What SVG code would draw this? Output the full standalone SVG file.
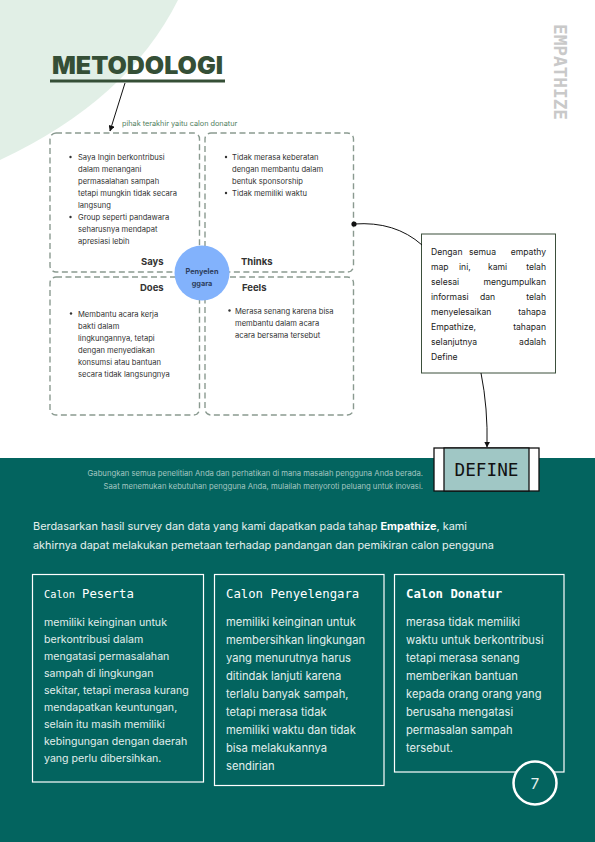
<svg xmlns="http://www.w3.org/2000/svg" width="595" height="842" viewBox="0 0 595 842">
<defs>
<style>
.body{font-family:Inter,"Noto Sans","Liberation Sans",sans-serif}
.mono{font-family:"DejaVu Sans Mono","Liberation Mono",monospace}
.q{fill:none;stroke:#8a9a90;stroke-width:1.4;stroke-dasharray:6 3.5}
.qt{font-family:Inter,"Noto Sans","Liberation Sans",sans-serif;font-size:7.6px;fill:#333}
.ql{font-family:Inter,"Noto Sans","Liberation Sans",sans-serif;font-size:9.5px;font-weight:700;fill:#333}
.ct{font-family:Inter,"Noto Sans","Liberation Sans",sans-serif;font-size:8.6px;fill:#222}
.card{fill:none;stroke:#ffffff;stroke-width:1.2}
.cb{font-family:Inter,"Noto Sans","Liberation Sans",sans-serif;fill:#e2eeec}
.ch{font-family:"DejaVu Sans Mono","Liberation Mono",monospace;fill:#ffffff}
</style>
<marker id="ah" viewBox="0 0 10 10" refX="9" refY="5" markerWidth="6" markerHeight="6" orient="auto-start-reverse" markerUnits="userSpaceOnUse">
<path d="M0,0 L10,5 L0,10 Z" fill="#111"/>
</marker>
</defs>
<rect x="0" y="0" width="595" height="842" fill="#ffffff"/>
<path d="M0,0 L178,0 Q128,100 0,160 Z" fill="#e1efe6"/>
<rect x="0" y="458" width="595" height="384" fill="#03645f"/>

<g id="title">
<text x="52" y="74" font-family="Inter,'Noto Sans','Liberation Sans',sans-serif" font-size="24" font-weight="900" fill="#354f36" textLength="171" lengthAdjust="spacingAndGlyphs">METODOLOGI</text>
<rect x="50" y="79.5" width="175" height="3" fill="#354f36"/>
</g>

<g id="empathize-label">
<text class="mono" transform="translate(554,24) rotate(90)" x="0" y="0" font-size="18" font-weight="700" fill="#c9c9c9" textLength="96" lengthAdjust="spacingAndGlyphs">EMPATHIZE</text>
</g>

<g id="note-label">
<text class="body" x="122" y="126" font-size="7.3" fill="#4f8060">pihak terakhir yaitu calon donatur</text>
</g>

<g id="says">
<rect class="q" x="50" y="133" width="149.5" height="139" rx="6"/>
<circle cx="70.5" cy="157" r="1.2" fill="#333"/>
<circle cx="70.5" cy="217" r="1.2" fill="#333"/>
<text class="qt" x="78" y="160">Saya Ingin berkontribusi</text>
<text class="qt" x="78" y="172">dalam menangani</text>
<text class="qt" x="78" y="184">permasalahan sampah</text>
<text class="qt" x="78" y="196">tetapi mungkin tidak secara</text>
<text class="qt" x="78" y="208">langsung</text>
<text class="qt" x="78" y="220">Group seperti pandawara</text>
<text class="qt" x="78" y="232">seharusnya mendapat</text>
<text class="qt" x="78" y="244">apresiasi lebih</text>
<text class="ql" x="141" y="265">Says</text>
</g>

<g id="thinks">
<rect class="q" x="205" y="133" width="148.5" height="139" rx="6"/>
<circle cx="226" cy="157" r="1.2" fill="#333"/>
<circle cx="226" cy="193" r="1.2" fill="#333"/>
<text class="qt" x="232" y="160">Tidak merasa keberatan</text>
<text class="qt" x="232" y="172">dengan membantu dalam</text>
<text class="qt" x="232" y="184">bentuk sponsorship</text>
<text class="qt" x="232" y="196">Tidak memiliki waktu</text>
<text class="ql" x="241" y="265">Thinks</text>
</g>

<g id="does">
<rect class="q" x="50" y="277" width="149.5" height="138" rx="6"/>
<circle cx="71" cy="313.5" r="1.2" fill="#333"/>
<text class="qt" x="78" y="317">Membantu acara kerja</text>
<text class="qt" x="78" y="329">bakti dalam</text>
<text class="qt" x="78" y="341">lingkungannya, tetapi</text>
<text class="qt" x="78" y="353">dengan menyediakan</text>
<text class="qt" x="78" y="365">konsumsi atau bantuan</text>
<text class="qt" x="78" y="377">secara tidak langsungnya</text>
<text class="ql" x="140" y="291">Does</text>
</g>

<g id="feels">
<rect class="q" x="205" y="277" width="148.5" height="138" rx="6"/>
<circle cx="229.5" cy="310.5" r="1.2" fill="#333"/>
<text class="qt" x="235" y="314">Merasa senang karena bisa</text>
<text class="qt" x="235" y="326">membantu dalam acara</text>
<text class="qt" x="235" y="338">acara bersama tersebut</text>
<text class="ql" x="242" y="291">Feels</text>
</g>

<g id="center">
<circle cx="202" cy="273" r="27.5" fill="#82b2fc"/>
<text class="body" x="202" y="274" font-size="7.3" font-weight="700" fill="#2d3e5c" text-anchor="middle">Penyelen</text>
<text class="body" x="202" y="286" font-size="7.3" font-weight="700" fill="#2d3e5c" text-anchor="middle">ggara</text>
</g>

<g id="callout">
<rect x="421.5" y="234" width="134" height="139" fill="#ffffff" stroke="#3b4f3b" stroke-width="1"/>
<text class="ct" x="431" y="255">Dengan</text>
<text class="ct" x="469" y="255">semua</text>
<text class="ct" x="546" y="255" text-anchor="end">empathy</text>
<text class="ct" x="431" y="270">map</text>
<text class="ct" x="459" y="270">ini,</text>
<text class="ct" x="488" y="270">kami</text>
<text class="ct" x="546" y="270" text-anchor="end">telah</text>
<text class="ct" x="431" y="285">selesai</text>
<text class="ct" x="546" y="285" text-anchor="end">mengumpulkan</text>
<text class="ct" x="431" y="300">informasi</text>
<text class="ct" x="480" y="300">dan</text>
<text class="ct" x="546" y="300" text-anchor="end">telah</text>
<text class="ct" x="431" y="315">menyelesaikan</text>
<text class="ct" x="546" y="315" text-anchor="end">tahapa</text>
<text class="ct" x="431" y="330">Empathize,</text>
<text class="ct" x="546" y="330" text-anchor="end">tahapan</text>
<text class="ct" x="431" y="345">selanjutnya</text>
<text class="ct" x="546" y="345" text-anchor="end">adalah</text>
<text class="ct" x="431" y="360">Define</text>
</g>

<g id="define">
<rect x="434" y="448" width="105" height="43" fill="#ffffff" stroke="#111" stroke-width="1.3"/>
<rect x="444" y="448" width="85" height="43" fill="#a0c7c5" stroke="#111" stroke-width="1.3"/>
<text class="mono" x="486.5" y="476" font-size="17.7" fill="#111" text-anchor="middle">DEFINE</text>
</g>

<g id="connectors" fill="none" stroke="#111" stroke-width="1">
<path d="M125,83 L110,131" marker-end="url(#ah)"/>
<circle cx="354" cy="224" r="2.6" fill="#111" stroke="none"/>
<path d="M354,224 Q395,221 422,245"/>
<path d="M481,373 Q488,408 487,447" marker-end="url(#ah)"/>
</g>

<g id="band-note">
<text class="body" x="423" y="476" font-size="7.7" fill="#a3c6c1" text-anchor="end">Gabungkan semua penelitian Anda dan perhatikan di mana masalah pengguna Anda berada.</text>
<text class="body" x="423" y="488.5" font-size="7.7" fill="#a3c6c1" text-anchor="end">Saat menemukan kebutuhan pengguna Anda, mulailah menyoroti peluang untuk inovasi.</text>
</g>

<g id="intro">
<text class="body" x="33" y="530" font-size="10.9" fill="#e6f0ee">Berdasarkan hasil survey dan data yang kami dapatkan pada tahap <tspan font-weight="700" fill="#ffffff">Empathize</tspan>, kami</text>
<text class="body" x="33" y="549" font-size="10.9" fill="#e6f0ee">akhirnya dapat melakukan pemetaan terhadap pandangan dan pemikiran calon pengguna</text>
</g>

<g id="card-peserta">
<rect class="card" x="32.5" y="574.5" width="171" height="207.5"/>
<text class="ch" x="44" y="598"><tspan font-size="10.3">Calon</tspan><tspan font-size="12.3" x="82">Peserta</tspan></text>
<text class="cb" font-size="10.6">
<tspan x="44" y="626">memiliki keinginan untuk</tspan>
<tspan x="44" y="643">berkontribusi dalam</tspan>
<tspan x="44" y="660">mengatasi permasalahan</tspan>
<tspan x="44" y="677">sampah di lingkungan</tspan>
<tspan x="44" y="694">sekitar, tetapi merasa kurang</tspan>
<tspan x="44" y="711">mendapatkan keuntungan,</tspan>
<tspan x="44" y="728">selain itu masih memiliki</tspan>
<tspan x="44" y="745">kebingungan dengan daerah</tspan>
<tspan x="44" y="762">yang perlu dibersihkan.</tspan>
</text>
</g>

<g id="card-penyelenggara">
<rect class="card" x="214.5" y="574.5" width="169.5" height="211"/>
<text class="ch" x="226" y="598" font-size="12.3">Calon Penyelengara</text>
<text class="cb" font-size="11.2">
<tspan x="226" y="626">memiliki keinginan untuk</tspan>
<tspan x="226" y="644">membersihkan lingkungan</tspan>
<tspan x="226" y="662">yang menurutnya harus</tspan>
<tspan x="226" y="680">ditindak lanjuti karena</tspan>
<tspan x="226" y="698">terlalu banyak sampah,</tspan>
<tspan x="226" y="716">tetapi merasa tidak</tspan>
<tspan x="226" y="734">memiliki waktu dan tidak</tspan>
<tspan x="226" y="752">bisa melakukannya</tspan>
<tspan x="226" y="770">sendirian</tspan>
</text>
</g>

<g id="card-donatur">
<rect class="card" x="394.5" y="574.5" width="169.5" height="197.5"/>
<text class="ch" x="406" y="598" font-size="12.3" font-weight="700">Calon Donatur</text>
<text class="cb" font-size="11.2">
<tspan x="406" y="626">merasa tidak memiliki</tspan>
<tspan x="406" y="644">waktu untuk berkontribusi</tspan>
<tspan x="406" y="662">tetapi merasa senang</tspan>
<tspan x="406" y="680">memberikan bantuan</tspan>
<tspan x="406" y="698">kepada orang orang yang</tspan>
<tspan x="406" y="716">berusaha mengatasi</tspan>
<tspan x="406" y="734">permasalan sampah</tspan>
<tspan x="406" y="752">tersebut.</tspan>
</text>
</g>

<g id="page-number">
<circle cx="535" cy="783" r="21.5" fill="#03645f" stroke="#ffffff" stroke-width="2.5"/>
<text class="body" x="535" y="789" font-size="15" fill="#e6f0ee" text-anchor="middle">7</text>
</g>
</svg>
